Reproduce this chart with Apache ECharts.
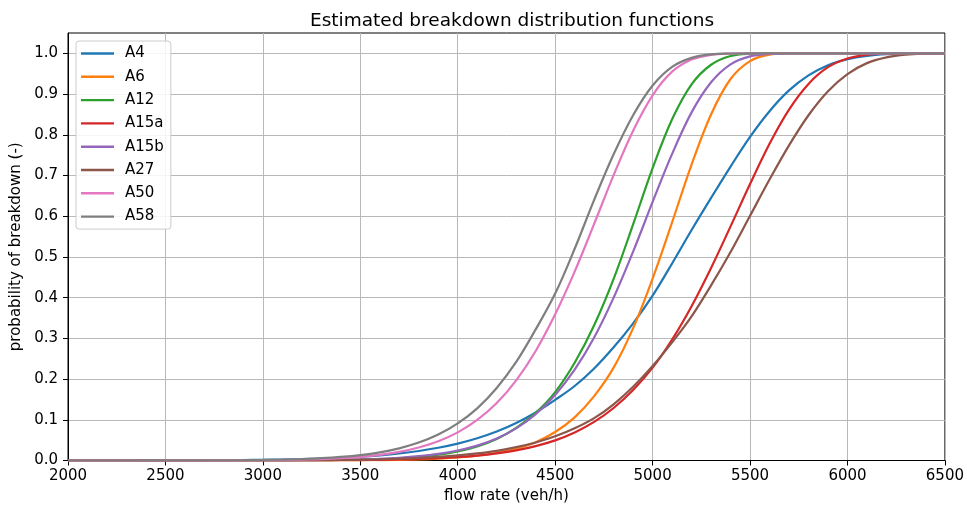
<!DOCTYPE html>
<html>
<head>
<meta charset="utf-8">
<script src="https://cdn.jsdelivr.net/npm/echarts@6/dist/echarts.min.js"></script>
<style>
  html, body { margin: 0; padding: 0; background: #fff; }
  #chart { width: 967px; height: 510px; }
</style>
</head>
<body>
<div id="chart"></div>
<script>
// Flow rate grid (veh/h) shared by every curve
const flowRate = [
  2000, 2100, 2200, 2300, 2400, 2500, 2600, 2700, 2800, 2900,
  3000, 3100, 3200, 3300, 3400, 3500, 3600, 3700, 3800, 3900,
  4000, 4100, 4200, 4300, 4400, 4500, 4600, 4700, 4800, 4900,
  5000, 5100, 5200, 5300, 5400, 5500, 5600, 5700, 5800, 5900,
  6000, 6100, 6200, 6300, 6400, 6500
];

// Estimated breakdown probability per site
const probA4 = [
  0, 0, 0.0001, 0.0001, 0.0001, 0.0002, 0.0003, 0.0005, 0.0007, 0.0011,
  0.0016, 0.0023, 0.0033, 0.0047, 0.0066, 0.0092, 0.0127, 0.0173, 0.0234, 0.0313,
  0.0415, 0.0546, 0.0712, 0.092, 0.118, 0.149, 0.183, 0.226, 0.278, 0.337,
  0.405, 0.484, 0.566, 0.645, 0.722, 0.795, 0.858, 0.909, 0.946, 0.971,
  0.986, 0.994, 0.998, 0.9995, 1, 1
];
const probA6 = [
  0, 0, 0, 0, 0, 0, 0, 0, 0, 0,
  0.0001, 0.0001, 0.0002, 0.0002, 0.0003, 0.0005, 0.0008, 0.0014, 0.0025, 0.0045,
  0.0075, 0.012, 0.019, 0.029, 0.045, 0.07, 0.106, 0.158, 0.228, 0.325,
  0.447, 0.585, 0.727, 0.85, 0.937, 0.981, 0.9967, 0.9997, 1, 1,
  1, 1, 1, 1, 1, 1
];
const probA12 = [
  0, 0, 0, 0, 0, 0, 0, 0, 0, 0,
  0.0001, 0.0002, 0.0004, 0.0007, 0.0012, 0.002, 0.0034, 0.0055, 0.009, 0.0143,
  0.0224, 0.0347, 0.053, 0.08, 0.117, 0.168, 0.24, 0.332, 0.446, 0.58,
  0.718, 0.838, 0.924, 0.972, 0.9935, 0.9991, 1, 1, 1, 1,
  1, 1, 1, 1, 1, 1
];
const probA15a = [
  0, 0, 0, 0, 0, 0, 0, 0, 0, 0,
  0.0001, 0.0002, 0.0003, 0.0004, 0.0007, 0.001, 0.0016, 0.0024, 0.0037, 0.0055,
  0.0082, 0.012, 0.0174, 0.0248, 0.0352, 0.0494, 0.0688, 0.0947, 0.129, 0.173,
  0.228, 0.297, 0.379, 0.473, 0.575, 0.679, 0.778, 0.862, 0.925, 0.966,
  0.9875, 0.9965, 0.9993, 1, 1, 1
];
const probA15b = [
  0, 0, 0, 0, 0, 0, 0, 0, 0, 0.0001,
  0.0002, 0.0003, 0.0006, 0.001, 0.0017, 0.0027, 0.0043, 0.0068, 0.0106, 0.0162,
  0.0245, 0.0366, 0.054, 0.079, 0.114, 0.161, 0.223, 0.302, 0.4, 0.513,
  0.635, 0.753, 0.855, 0.929, 0.973, 0.9926, 0.9986, 1, 1, 1,
  1, 1, 1, 1, 1, 1
];
const probA27 = [
  0, 0, 0, 0, 0, 0, 0, 0.0001, 0.0001, 0.0002,
  0.0003, 0.0004, 0.0006, 0.0009, 0.0014, 0.0021, 0.003, 0.0044, 0.0063, 0.0089,
  0.0125, 0.0174, 0.0238, 0.0327, 0.0442, 0.0594, 0.079, 0.104, 0.138, 0.181,
  0.232, 0.29, 0.354, 0.43, 0.512, 0.601, 0.69, 0.774, 0.848, 0.907,
  0.949, 0.976, 0.99, 0.9968, 0.9992, 0.9998
];
const probA50 = [
  0, 0, 0, 0, 0, 0.0001, 0.0001, 0.0002, 0.0003, 0.0005,
  0.0008, 0.0014, 0.0022, 0.0036, 0.0057, 0.009, 0.0139, 0.0212, 0.0318, 0.0472,
  0.069, 0.0995, 0.141, 0.197, 0.269, 0.359, 0.464, 0.581, 0.701, 0.81,
  0.897, 0.955, 0.985, 0.9963, 0.9994, 1, 1, 1, 1, 1,
  1, 1, 1, 1, 1, 1
];
const probA58 = [
  0, 0, 0, 0, 0.0001, 0.0001, 0.0002, 0.0003, 0.0005, 0.0008,
  0.0014, 0.0023, 0.0036, 0.0056, 0.0087, 0.0133, 0.0201, 0.0299, 0.044, 0.0637,
  0.091, 0.128, 0.178, 0.242, 0.322, 0.41, 0.52, 0.64, 0.752, 0.848,
  0.921, 0.967, 0.989, 0.9975, 0.9996, 1, 1, 1, 1, 1,
  1, 1, 1, 1, 1, 1
];

const siteNames = ['A4', 'A6', 'A12', 'A15a', 'A15b', 'A27', 'A50', 'A58'];
const siteValues = [probA4, probA6, probA12, probA15a, probA15b, probA27, probA50, probA58];
const siteColors = ['#1f77b4', '#ff7f0e', '#2ca02c', '#d62728', '#9467bd', '#8c564b', '#e377c2', '#7f7f7f'];

const xTicks = [2000, 2500, 3000, 3500, 4000, 4500, 5000, 5500, 6000, 6500];
const yTicks = [0, 0.1, 0.2, 0.3, 0.4, 0.5, 0.6, 0.7, 0.8, 0.9, 1.0];

const FONT = 'DejaVu Sans';

const series = siteNames.map((name, i) => ({
  name: name,
  type: 'line',
  symbol: 'none',
  smooth: 0.35,
  data: flowRate.map((x, j) => [x, siteValues[i][j]]),
  lineStyle: { color: siteColors[i], width: 2.2 },
  itemStyle: { color: siteColors[i] },
  emphasis: { disabled: true },
  animation: false
}));

const chart = echarts.init(document.getElementById('chart'), null, { renderer: 'canvas' });
chart.setOption({
  animation: false,
  backgroundColor: '#ffffff',
  title: {
    text: 'Estimated breakdown distribution functions',
    left: 507,
    textAlign: 'center',
    top: 7,
    textStyle: { fontFamily: FONT, fontSize: 18.5, fontWeight: 'normal', color: '#000' }
  },
  grid: {
    left: 68, right: 21, top: 33, bottom: 49.5,
    show: true, borderColor: '#000', borderWidth: 1, backgroundColor: 'transparent'
  },
  legend: {
    orient: 'vertical',
    left: 76, top: 41,
    data: siteNames,
    icon: 'rect',
    itemWidth: 33, itemHeight: 2.4, itemGap: 8.3,
    padding: [5, 7, 5, 5],
    backgroundColor: 'rgba(255,255,255,0.85)',
    borderColor: '#cccccc', borderWidth: 1, borderRadius: 3,
    textStyle: { fontFamily: FONT, fontSize: 15, color: '#000', lineHeight: 15, padding: [0, 0, 0, 6] },
    selectedMode: false
  },
  xAxis: {
    type: 'value',
    min: xTicks[0], max: xTicks[xTicks.length - 1], interval: 500,
    name: 'flow rate (veh/h)',
    nameLocation: 'middle', nameGap: 27,
    nameTextStyle: { fontFamily: FONT, fontSize: 15, color: '#000' },
    axisLine: { show: true, lineStyle: { color: '#000', width: 1 } },
    axisTick: { show: true, inside: false, length: 5, lineStyle: { color: '#000', width: 1 } },
    axisLabel: { fontFamily: FONT, fontSize: 15, color: '#000', margin: 8, formatter: v => String(v) },
    splitLine: { show: true, lineStyle: { color: '#b8b8b8', width: 1 } }
  },
  yAxis: {
    type: 'value',
    min: 0, max: 1.05, interval: 0.1,
    name: 'probability of breakdown (-)',
    nameLocation: 'middle', nameGap: 44,
    nameTextStyle: { fontFamily: FONT, fontSize: 15, color: '#000' },
    axisLine: { show: true, lineStyle: { color: '#000', width: 1 } },
    axisTick: {
      show: true, inside: false, length: 5, lineStyle: { color: '#000', width: 1 },
      customValues: yTicks
    },
    axisLabel: {
      fontFamily: FONT, fontSize: 15, color: '#000', margin: 10,
      customValues: yTicks,
      formatter: v => v.toFixed(1)
    },
    splitLine: { show: true, lineStyle: { color: '#b8b8b8', width: 1 } }
  },
  series: series
});
</script>
</body>
</html>
